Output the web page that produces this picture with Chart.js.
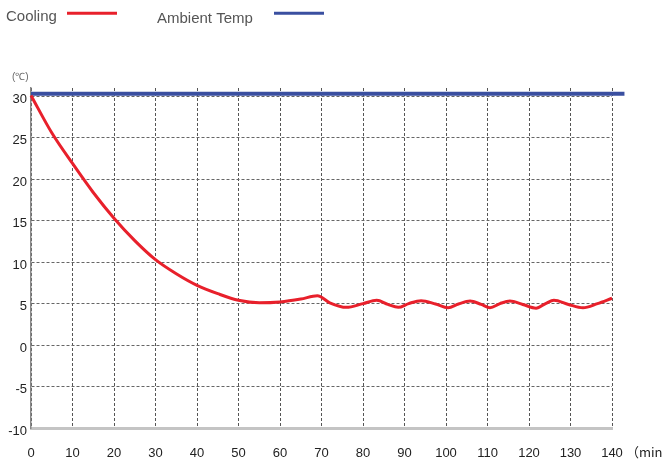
<!DOCTYPE html>
<html>
<head>
<meta charset="utf-8">
<script src="https://cdn.jsdelivr.net/npm/chart.js@4.4.0/dist/chart.umd.min.js"></script>
<style>
  html, body { margin: 0; padding: 0; background: #fff; }
  #chart-box { width: 662px; height: 461px; }
</style>
</head>
<body>
<div id="chart-box"><canvas id="cooling-chart" width="662" height="461"></canvas></div>
<script>
// values
const coolingMinutes = [0, 5, 10, 15, 20, 25, 30, 35, 40, 45, 50, 55, 60, 65, 69,
  72, 76, 80, 83.3, 86, 88.5, 91, 94, 97.5, 100.5, 103, 105.8, 108.5, 110.6,
  113, 115.4, 118.5, 121.7, 124, 126, 129.5, 133, 136.5, 140];
const coolingTemps = [30.1, 25.6, 21.9, 18.4, 15.3, 12.6, 10.3, 8.6, 7.2, 6.2, 5.4, 5.1, 5.2, 5.55, 5.95,
  5.1, 4.55, 5.0, 5.4, 4.9, 4.55, 5.0, 5.35, 4.95, 4.5, 4.95, 5.3, 4.9, 4.5,
  5.0, 5.3, 4.9, 4.45, 5.0, 5.4, 4.9, 4.5, 5.0, 5.65];
const ambientMinutes = [0, 143];
const ambientTemps = [30.3, 30.3];

const xTickValues = [0, 10, 20, 30, 40, 50, 60, 70, 80, 90, 100, 110, 120, 130, 140];
const yTickValues = [-10, -5, 0, 5, 10, 15, 20, 25, 30];

const seriesNames = ["Cooling", "Ambient Temp"];
const seriesColors = ["#e8202b", "#3a4fa0"];

const fontFamily = "'Liberation Sans', Arial, sans-serif";

function toPoints(xs, ys) {
  return xs.map((x, i) => ({ x: x, y: ys[i] }));
}

// legend and unit labels drawn by hand (the legend puts text before the line)
const headerPlugin = {
  id: "header",
  afterDraw(chart) {
    const ctx = chart.ctx;
    ctx.save();
    ctx.font = "15px " + fontFamily;
    ctx.fillStyle = "#555";
    ctx.textAlign = "left";
    ctx.textBaseline = "alphabetic";
    ctx.fillText(seriesNames[0], 6, 21);
    ctx.fillText(seriesNames[1], 157, 22.5);

    ctx.lineWidth = 3;
    ctx.strokeStyle = seriesColors[0];
    ctx.beginPath();
    ctx.moveTo(67, 13.3);
    ctx.lineTo(117, 13.3);
    ctx.stroke();
    ctx.strokeStyle = seriesColors[1];
    ctx.beginPath();
    ctx.moveTo(274, 13.3);
    ctx.lineTo(324, 13.3);
    ctx.stroke();

    ctx.font = "10px " + fontFamily;
    ctx.fillStyle = "#666";
    ctx.fillText("(℃)", 12, 80);

    ctx.font = "13px 'Noto Sans CJK SC', " + fontFamily;
    ctx.fillStyle = "#222";
    ctx.fillText("（min）", 626, 457);
    ctx.restore();
  }
};

const ctx = document.getElementById("cooling-chart").getContext("2d");

const myChart = new Chart(ctx, {
  type: "line",
  data: {
    datasets: [
      {
        label: seriesNames[1],
        data: toPoints(ambientMinutes, ambientTemps),
        borderColor: seriesColors[1],
        borderWidth: 4,
        pointRadius: 0,
        clip: false,
        order: 2,
      },
      {
        label: seriesNames[0],
        data: toPoints(coolingMinutes, coolingTemps),
        borderColor: seriesColors[0],
        borderWidth: 3,
        pointRadius: 0,
        cubicInterpolationMode: "monotone",
        clip: false,
        order: 1,
      },
    ],
  },
  options: {
    responsive: false,
    animation: false,
    layout: { padding: { top: 88, right: 50, left: 0, bottom: 0 } },
    plugins: {
      legend: { display: false },
      tooltip: { enabled: false },
    },
    scales: {
      x: {
        type: "linear",
        min: 0,
        max: 140,
        afterBuildTicks: (scale) => {
          scale.ticks = xTickValues.map((v) => ({ value: v }));
        },
        afterFit: (scale) => {
          scale.height = 33;
        },
        ticks: {
          padding: 18,
          maxRotation: 0,
          autoSkip: false,
          color: "#222",
          font: { family: fontFamily, size: 13 },
        },
        grid: { color: "#555", lineWidth: 1, drawTicks: false },
        border: { color: "#c4c4c4", width: 3, dash: [3, 2] },
      },
      y: {
        min: -10,
        max: 31,
        afterBuildTicks: (scale) => {
          scale.ticks = yTickValues.map((v) => ({ value: v }));
        },
        afterFit: (scale) => {
          scale.width = 31;
        },
        ticks: {
          padding: 4,
          labelOffset: 3,
          color: "#222",
          font: { family: fontFamily, size: 13 },
        },
        grid: { color: "#666", lineWidth: 1, drawTicks: false },
        border: { color: "#888", width: 1.5, dash: [3, 2] },
      },
    },
  },
  plugins: [headerPlugin],
});
</script>
</body>
</html>
